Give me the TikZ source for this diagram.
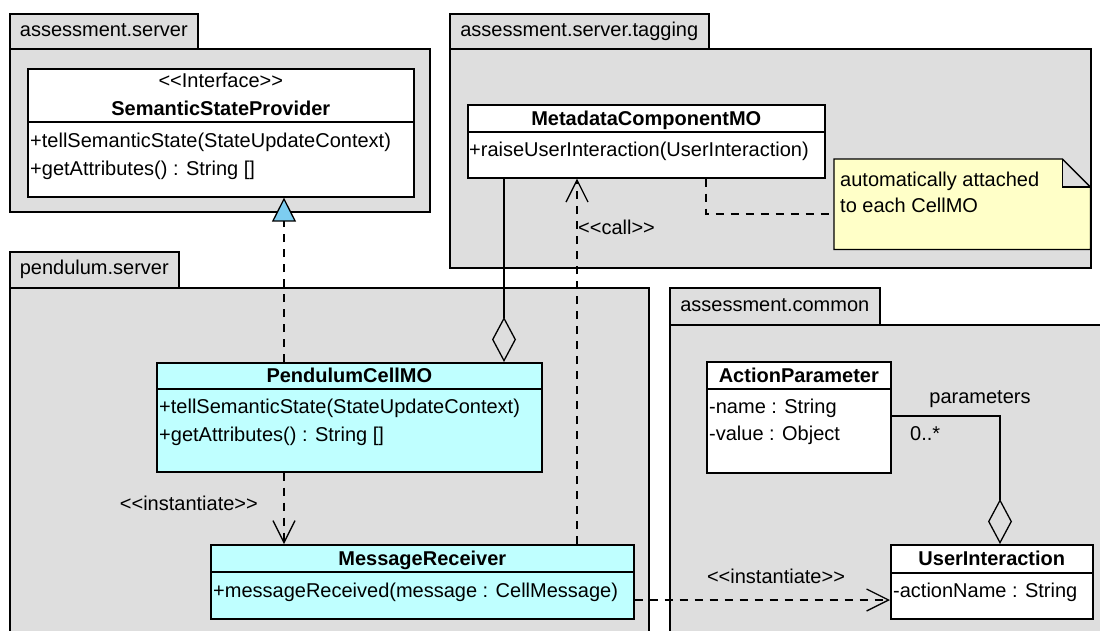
\documentclass[tikz,border=0pt]{standalone}
\usepackage{fontspec}
\setmainfont{Liberation Sans}
\usetikzlibrary{arrows.meta}
\definecolor{pkggray}{RGB}{222,222,222}
\definecolor{cyanfill}{RGB}{191,255,255}
\definecolor{notefill}{RGB}{255,255,200}
\definecolor{triblue}{RGB}{125,205,240}
\newcommand\stereo[1]{<\kern0pt<#1>\kern0pt>}
\begin{document}
\begin{tikzpicture}[x=1pt,y=-1pt,
  font=\fontsize{20}{24}\selectfont,
  pkgbody/.style={draw, fill=pkggray, line width=1.6pt, inner sep=0pt, anchor=north west},
  pkgtab/.style={draw, fill=pkggray, line width=1.6pt, inner sep=0pt, anchor=north west, text height=14pt, text depth=4pt},
  clsbox/.style={draw, fill=white, line width=1.6pt, inner sep=0pt, anchor=north west},
  cyanbox/.style={clsbox, fill=cyanfill},
  divider/.style={line width=1.6pt},
  txt/.style={inner sep=0pt, anchor=west, text height=14pt, text depth=4pt},
  ttl/.style={inner sep=0pt, font=\fontsize{20}{24}\selectfont\bfseries, text height=14pt, text depth=4pt},
  lbl/.style={inner sep=0pt, text height=14pt, text depth=4pt},
  conn/.style={line width=1.3pt},
  dep/.style={conn, dash pattern=on 8pt off 7pt},
  openarrow/.style={-{Straight Barb[length=22pt,width=22pt]}},
  aggr/.style={{Diamond[open,length=45pt,width=24pt]}-},
  realize/.style={-{Triangle[length=24pt,width=24pt,fill=triblue]}}
]
\useasboundingbox (0,0) rectangle (1100,630);
\clip (0,0) rectangle (1100,630);

% ---------- packages ----------
\node[pkgbody, minimum width=420, minimum height=163] (asBody) at (9,48) {};
\node[pkgtab, minimum width=188, minimum height=35] (asTab) at (9,13) {assessment.server};

\node[pkgbody, minimum width=641, minimum height=219] (tgBody) at (449,48) {};
\node[pkgtab, minimum width=259, minimum height=35] (tgTab) at (449,13) {assessment.server.tagging};

\node[pkgbody, minimum width=639, minimum height=400] (psBody) at (9,287) {};
\node[pkgtab, minimum width=169, minimum height=36] (psTab) at (9,251) {pendulum.server};

\node[pkgbody, minimum width=460, minimum height=400] (acBody) at (669,324) {};
\node[pkgtab, minimum width=210, minimum height=37] (acTab) at (669,287) {assessment.common};

% ---------- SemanticStateProvider ----------
\node[clsbox, minimum width=386, minimum height=128] (ssp) at (27,68) {};
\draw[divider] (ssp.west |- 0,122) -- (ssp.east |- 0,122);
\node[lbl] (sspS) at (ssp.north |- 0,82) {\stereo{Interface}};
\node[ttl] (sspT) at (ssp.north |- 0,110) {SemanticStateProvider};
\node[txt] (sspM1) at (30,142) {+tellSemanticState(StateUpdateContext)};
\node[txt] (sspM2) at (30,170) {+getAttributes() : String []};

% ---------- MetadataComponentMO ----------
\node[clsbox, minimum width=357, minimum height=73] (mcmo) at (467,104) {};
\draw[divider] (mcmo.west |- 0,132) -- (mcmo.east |- 0,132);
\node[ttl] (mcmoT) at (mcmo.north |- 0,120) {MetadataComponentMO};
\node[txt] (mcmoM1) at (469,151) {+raiseUserInteraction(UserInteraction)};

% ---------- note ----------
\node[inner sep=0pt, anchor=north west, minimum width=256, minimum height=90] (note) at (834,159) {};
\fill[notefill] (note.north west) -- ([xshift=-28pt]note.north east)
  -- ([xshift=-28pt,yshift=-28pt]note.north east) -- ([yshift=-28pt]note.north east)
  -- (note.south east) -- (note.south west) -- cycle;
\draw[line width=1.3pt] (note.north west) -- ([xshift=-28pt]note.north east)
  -- ([yshift=-28pt]note.north east) -- (note.south east) -- (note.south west) -- cycle;
\draw[line width=1.3pt] ([xshift=-28pt]note.north east) -- ([xshift=-28pt,yshift=-28pt]note.north east)
  -- ([yshift=-28pt]note.north east);
\node[txt] (noteL1) at (840,181) {automatically attached};
\node[txt] (noteL2) at (840,207) {to each CellMO};

% ---------- PendulumCellMO ----------
\node[cyanbox, minimum width=385, minimum height=109] (pcm) at (156,362) {};
\draw[divider] (pcm.west |- 0,389) -- (pcm.east |- 0,389);
\node[ttl] (pcmT) at (pcm.north |- 0,377) {PendulumCellMO};
\node[txt] (pcmM1) at (159,408) {+tellSemanticState(StateUpdateContext)};
\node[txt] (pcmM2) at (159,436) {+getAttributes() : String []};

% ---------- MessageReceiver ----------
\node[cyanbox, minimum width=423, minimum height=74] (mr) at (210,544) {};
\draw[divider] (mr.west |- 0,572) -- (mr.east |- 0,572);
\node[ttl] (mrT) at (mr.north |- 0,560) {MessageReceiver};
\node[txt] (mrM1) at (213,592) {+messageReceived(message : CellMessage)};

% ---------- ActionParameter ----------
\node[clsbox, minimum width=184, minimum height=111] (ap) at (706,361) {};
\draw[divider] (ap.west |- 0,389) -- (ap.east |- 0,389);
\node[ttl] (apT) at (ap.north |- 0,377) {ActionParameter};
\node[txt] (apA1) at (709,408) {-name : String};
\node[txt] (apA2) at (709,435) {-value : Object};

% ---------- UserInteraction ----------
\node[clsbox, minimum width=202, minimum height=74] (ui) at (890,544) {};
\draw[divider] (ui.west |- 0,573) -- (ui.east |- 0,573);
\node[ttl] (uiT) at (ui.north |- 0,560) {UserInteraction};
\node[txt] (uiA1) at (893,592) {-actionName : String};

% ---------- connectors ----------
\draw[dep, realize] (pcm.north -| 284,0) -- (ssp.south -| 284,0);
\draw[conn, aggr] (pcm.north -| 504,0) -- (mcmo.south -| 504,0);
\draw[dep, openarrow] (mr.north -| 577,0) -- (mcmo.south -| 577,0);
\node[txt] (callL) at (578,229) {\stereo{call}};
\draw[dep] (mcmo.south -| 706,0) |- (note.west |- 0,214);
\draw[dep, openarrow] (pcm.south -| 284,0) -- (mr.north -| 284,0);
\node[lbl, anchor=east] (inst1L) at (258,505) {\stereo{instantiate}};
\draw[dep, openarrow] (mr.east |- 0,600) -- (ui.west |- 0,600);
\node[lbl] (inst2L) at (776,578) {\stereo{instantiate}};
\draw[conn, aggr] (ui.north -| 1000,0) |- (ap.east |- 0,416);
\node[lbl] (paramL) at (980,398) {parameters};
\node[txt] (multL) at (910,435) {0..*};
\end{tikzpicture}
\end{document}
